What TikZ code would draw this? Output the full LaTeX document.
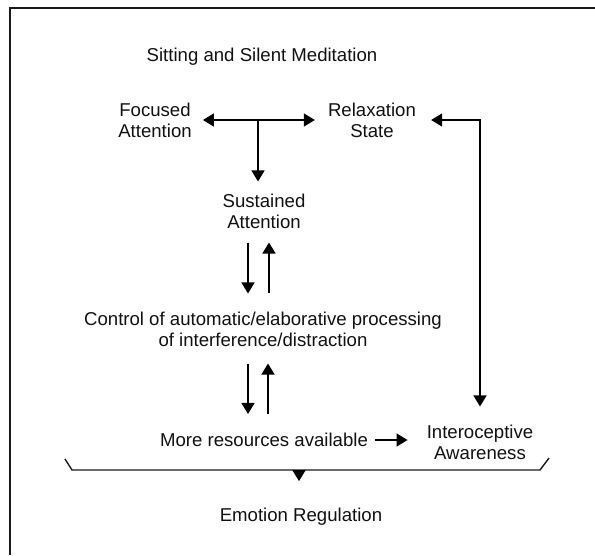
\documentclass[tikz,border=0pt]{standalone}
\usepackage{fontspec}
\setmainfont{Liberation Sans}
\usetikzlibrary{arrows.meta,calc}
\definecolor{FrameInk}{HTML}{1A1A1A}
\definecolor{TextInk}{HTML}{111111}

\begin{document}
\begin{tikzpicture}[x=1pt,y=1pt,
    txt/.style={align=center, inner sep=0pt, text=TextInk,
                font=\fontsize{18.6}{21}\selectfont},
    arr/.style={-{Triangle[length=11pt,width=13pt]}, line width=1.4pt},
    biarr/.style={{Triangle[length=11pt,width=13pt]}-{Triangle[length=11pt,width=13pt]},
                  line width=1.4pt}]
  \useasboundingbox (0,0) rectangle (595,-555);
  % frame (cut off at right and bottom)
  \draw[FrameInk, line width=1.6pt] (10,-555) -- (10,-8) -- (595,-8);

  \node[txt] (title)     at (262,-57)  {Sitting and Silent Meditation};
  \node[txt] (focus)     at (155,-120) {Focused\\Attention};
  \node[txt] (relax)     at (372,-120) {Relaxation\\State};
  \node[txt] (sustain)   at (264,-211) {Sustained\\Attention};
  \node[txt] (control)   at (263,-329) {Control of automatic/elaborative processing\\of interference/distraction};
  \node[txt] (resources) at (264,-440) {More resources available};
  \node[txt] (intero)    at (480,-442) {Interoceptive\\Awareness};
  \node[txt] (emotion)   at (301,-517) {Emotion Regulation};

  % top T-junction
  \draw[biarr] ([xshift=11pt]focus.east) -- ([xshift=-13pt]relax.west);
  \coordinate (fork) at (258,-120);
  \draw[arr, shorten >=12pt] (fork) -- (fork |- sustain.north);

  % sustained <-> control
  \draw[arr] ([xshift=-16pt,yshift=-14pt]sustain.south) -- ([xshift=-15pt,yshift=18pt]control.north);
  \draw[arr] ([xshift=6pt,yshift=18pt]control.north) -- ([xshift=5pt,yshift=-14pt]sustain.south);

  % control <-> resources
  \draw[arr] ([xshift=-15pt,yshift=-17pt]control.south) -- ([xshift=-16pt,yshift=19pt]resources.north);
  \draw[arr] ([xshift=4pt,yshift=19pt]resources.north) -- ([xshift=5pt,yshift=-17pt]control.south);

  \draw[arr, shorten <=7pt, shorten >=19pt] (resources.east) -- (resources.east -| intero.west);
  \draw[biarr, shorten <=15pt, shorten >=18pt] (relax.east) -| (intero.north);

  % brace
  \draw[FrameInk, line width=1.4pt] (65,-459) -- (72,-470) -- (540,-470) -- (549,-458);
  \coordinate (bracemid) at (299,-470);
  \draw[arr, shorten >=27pt] (bracemid) -- (bracemid |- emotion.north);
\end{tikzpicture}
\end{document}
